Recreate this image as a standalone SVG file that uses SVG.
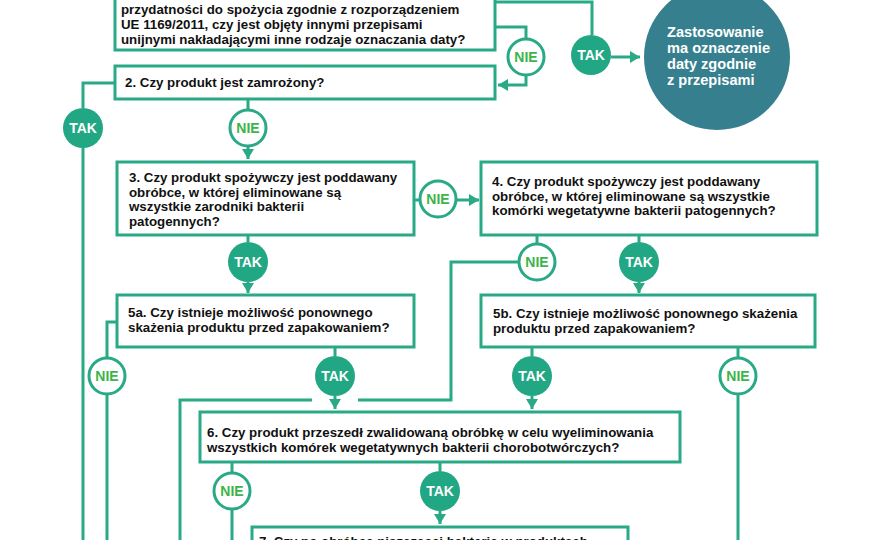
<svg xmlns="http://www.w3.org/2000/svg" width="880" height="540" viewBox="0 0 880 540">
<defs>
<style>
.box{fill:#fff;stroke:#2aa987;stroke-width:3}
.ln{fill:none;stroke:#2aa987;stroke-width:3}
.gap{fill:none;stroke:#fff;stroke-width:9}
.q{font-family:"Liberation Sans",Arial,sans-serif;font-weight:bold;font-size:13.3px;fill:#111}
.tak{fill:#22a784}
.nie{fill:#fff;stroke:#2aa987;stroke-width:3}
.tt{font-family:"Liberation Sans",Arial,sans-serif;font-weight:bold;font-size:14px;fill:#fff;text-anchor:middle}
.nt{font-family:"Liberation Sans",Arial,sans-serif;font-weight:bold;font-size:14px;fill:#3cb44a;text-anchor:middle}
.ct{font-family:"Liberation Sans",Arial,sans-serif;font-weight:bold;font-size:14.6px;fill:#fff}
</style>
<marker id="ah" markerUnits="userSpaceOnUse" markerWidth="12" markerHeight="12" refX="10" refY="6" orient="auto">
<path d="M0,0 L10,6 L0,12 z" fill="#2aa987"/>
</marker>
</defs>

<g id="connectors">
<path class="ln" d="M495,2 H592 V35"/>
<path class="ln" d="M611,57 H640" marker-end="url(#ah)"/>
<path class="ln" d="M495,27 H526 V38"/>
<path class="ln" d="M526,76 V85 H498" marker-end="url(#ah)"/>
<path class="ln" d="M115,83 H83 V108"/>
<path class="ln" d="M83,148 V540"/>
<path class="ln" d="M248,99 V109"/>
<path class="ln" d="M248,147 V159" marker-end="url(#ah)"/>
<path class="ln" d="M414,200 H420"/>
<path class="ln" d="M457,200 H479" marker-end="url(#ah)"/>
<path class="ln" d="M248,235 V242"/>
<path class="ln" d="M248,282 V293" marker-end="url(#ah)"/>
<path class="ln" d="M537,235 V243"/>
<path class="ln" d="M518,262 H451 V400 H180 V540"/>
<path class="ln" d="M639,235 V242"/>
<path class="ln" d="M639,282 V293" marker-end="url(#ah)"/>
<path class="ln" d="M117,322 H107 V358"/>
<path class="ln" d="M107,395 V540"/>
<path class="ln" d="M335,347 V356"/>
<path class="gap" d="M312,400 H358"/>
<path class="ln" d="M335,396 V409" marker-end="url(#ah)"/>
<path class="ln" d="M532,347 V356"/>
<path class="ln" d="M532,396 V409" marker-end="url(#ah)"/>
<path class="ln" d="M738,347 V358"/>
<path class="ln" d="M738,395 V540"/>
<path class="ln" d="M232,462 V473"/>
<path class="ln" d="M232,510 V540"/>
<path class="ln" d="M440,462 V471"/>
<path class="ln" d="M440,511 V524" marker-end="url(#ah)"/>
</g>

<g id="q1">
<rect class="box" x="115" y="-40" width="380" height="90"/>
<text class="q" x="121" y="14">przydatności do spożycia zgodnie z rozporządzeniem</text>
<text class="q" x="121" y="29">UE 1169/2011, czy jest objęty innymi przepisami</text>
<text class="q" x="121" y="43.5">unijnymi nakładającymi inne rodzaje oznaczania daty?</text>
</g>

<g id="result">
<circle cx="717" cy="57" r="73" fill="#367f8e"/>
<text class="ct" x="667" y="37">Zastosowanie</text>
<text class="ct" x="667" y="53">ma oznaczenie</text>
<text class="ct" x="667" y="69">daty zgodnie</text>
<text class="ct" x="667" y="85">z przepisami</text>
</g>

<g id="q2">
<rect class="box" x="115" y="66" width="380" height="33"/>
<text class="q" x="125" y="87">2. Czy produkt jest zamrożony?</text>
</g>

<g id="q3">
<rect class="box" x="117" y="162" width="297" height="73"/>
<text class="q" x="129" y="182">3. Czy produkt spożywczy jest poddawany</text>
<text class="q" x="129" y="196.7">obróbce, w której eliminowane są</text>
<text class="q" x="129" y="211.4">wszystkie zarodniki bakterii</text>
<text class="q" x="129" y="226">patogennych?</text>
</g>

<g id="q4">
<rect class="box" x="481" y="162" width="336" height="73"/>
<text class="q" x="492" y="186">4. Czy produkt spożywczy jest poddawany</text>
<text class="q" x="492" y="200.5">obróbce, w której eliminowane są wszystkie</text>
<text class="q" x="492" y="215">komórki wegetatywne bakterii patogennych?</text>
</g>

<g id="q5a">
<rect class="box" x="117" y="295" width="297" height="52"/>
<text class="q" x="128" y="317">5a. Czy istnieje możliwość ponownego</text>
<text class="q" x="128" y="332">skażenia produktu  przed zapakowaniem?</text>
</g>

<g id="q5b">
<rect class="box" x="481" y="295" width="334" height="52"/>
<text class="q" x="493" y="318">5b. Czy istnieje możliwość ponownego skażenia</text>
<text class="q" x="493" y="333">produktu przed zapakowaniem?</text>
</g>

<g id="q6">
<rect class="box" x="200" y="412" width="480" height="50"/>
<text class="q" x="207" y="437">6. Czy produkt przeszedł zwalidowaną obróbkę w celu wyeliminowania</text>
<text class="q" x="207" y="451.7">wszystkich komórek wegetatywnych bakterii chorobotwórczych?</text>
</g>

<g id="q7">
<rect class="box" x="252" y="527" width="376" height="40"/>
<text class="q" x="259" y="546">7. Czy po obróbce niszczącej bakterie w produktach</text>
</g>

<g id="tak1"><circle class="tak" cx="591" cy="55" r="20"/><text class="tt" x="591" y="60">TAK</text></g>
<g id="nie1"><circle class="nie" cx="526" cy="57" r="18"/><text class="nt" x="526" y="62">NIE</text></g>
<g id="tak2"><circle class="tak" cx="83" cy="128" r="20"/><text class="tt" x="83" y="133">TAK</text></g>
<g id="nie2"><circle class="nie" cx="248" cy="128" r="18"/><text class="nt" x="248" y="133">NIE</text></g>
<g id="nie3"><circle class="nie" cx="438" cy="199" r="18"/><text class="nt" x="438" y="204">NIE</text></g>
<g id="tak3"><circle class="tak" cx="248" cy="262" r="20"/><text class="tt" x="248" y="267">TAK</text></g>
<g id="nie4"><circle class="nie" cx="537" cy="262" r="18"/><text class="nt" x="537" y="267">NIE</text></g>
<g id="tak4"><circle class="tak" cx="639" cy="262" r="20"/><text class="tt" x="639" y="267">TAK</text></g>
<g id="nie5a"><circle class="nie" cx="107" cy="376" r="18"/><text class="nt" x="107" y="381">NIE</text></g>
<g id="tak5a"><circle class="tak" cx="335" cy="376" r="20"/><text class="tt" x="335" y="381">TAK</text></g>
<g id="tak5b"><circle class="tak" cx="532" cy="376" r="20"/><text class="tt" x="532" y="381">TAK</text></g>
<g id="nie5b"><circle class="nie" cx="738" cy="376" r="18"/><text class="nt" x="738" y="381">NIE</text></g>
<g id="nie6"><circle class="nie" cx="232" cy="491" r="18"/><text class="nt" x="232" y="496">NIE</text></g>
<g id="tak6"><circle class="tak" cx="440" cy="491" r="20"/><text class="tt" x="440" y="496">TAK</text></g>
</svg>
